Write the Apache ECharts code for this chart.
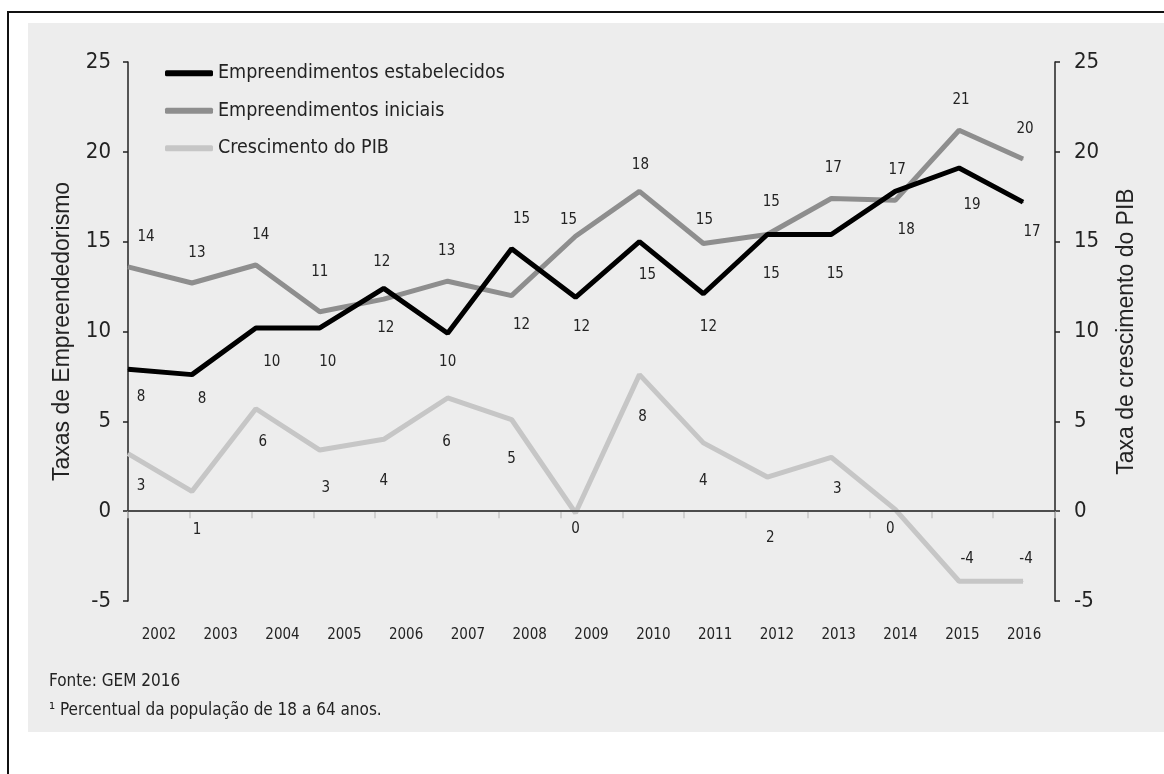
<!DOCTYPE html>
<html><head><meta charset="utf-8">
<script src="https://cdn.jsdelivr.net/npm/echarts@6/dist/echarts.min.js"></script>
<style>
html,body{margin:0;padding:0;width:1164px;height:774px;overflow:hidden;background:#fff;}
#frame{position:absolute;left:7px;top:11px;width:1200px;height:800px;border-left:2px solid #111;border-top:2px solid #111;}
#bg{position:absolute;left:28px;top:23px;width:1136px;height:709px;background:#ededed;}
#chart{position:absolute;left:0;top:0;width:1164px;height:774px;}
</style></head>
<body><div id="frame"></div><div id="bg"></div><div id="chart"></div>
<script>
// ---- data ----
const years = ['2002','2003','2004','2005','2006','2007','2008','2009','2010','2011','2012','2013','2014','2015','2016'];
const estabelecidos = [7.9, 7.6, 10.2, 10.2, 12.4, 9.9, 14.6, 11.9, 15.0, 12.1, 15.4, 15.4, 17.8, 19.1, 17.2];
const iniciais      = [13.6, 12.7, 13.7, 11.1, 11.8, 12.8, 12.0, 15.3, 17.8, 14.9, 15.4, 17.4, 17.3, 21.2, 19.6];
const pib           = [3.2, 1.1, 5.7, 3.4, 4.0, 6.3, 5.1, -0.1, 7.6, 3.8, 1.9, 3.0, 0.1, -3.9, -3.9];
const yTicksMin = -5, yTicksMax = 25, yTickStep = 5;
const seriesNames = ['Empreendimentos estabelecidos', 'Empreendimentos iniciais', 'Crescimento do PIB'];
const leftAxisName = 'Taxas de Empreendedorismo';
const rightAxisName = 'Taxa de crescimento do PIB';
const footnotes = ['Fonte: GEM 2016', '\u00B9 Percentual da população de 18 a 64 anos.'];

// ---- styling ----
const COND = '"DejaVu Sans Condensed","Liberation Sans Narrow","DejaVu Sans",sans-serif';
const SANS = '"Liberation Sans",Arial,sans-serif';
const TXT = '#232323';
// label placement (style only): index -> [position, distance, dx]
const labelStyle = {
  est: { def: ['bottom', 22, 4], over: {
    0: ['bottom', 20, 13], 1: ['bottom', 16, 10], 2: ['bottom', 26, 16], 3: ['bottom', 26, 8],
    4: ['top', 18, -2], 5: ['bottom', 21, 0], 6: ['top', 22, 10], 7: ['bottom', 22, 6],
    8: ['bottom', 25, 8], 9: ['bottom', 25, 5], 10: ['bottom', 32, 4], 11: ['bottom', 32, 4],
    12: ['bottom', 31, 11], 13: ['bottom', 29, 13], 14: ['bottom', 22, 9] } },
  ini: { def: ['top', 22, 2], over: {
    0: ['top', 22, 18], 1: ['top', 22, 5], 2: ['top', 22, 5], 3: ['top', 32, 0],
    4: ['bottom', 21, 2], 5: ['top', 22, -1], 6: ['bottom', 22, 10], 7: ['top', 8, -7],
    8: ['top', 18, 1], 9: ['top', 15, 1], 10: ['top', 24, 4] } },
  pib: { def: ['bottom', 30, 2], over: {
    0: ['bottom', 24, 13], 1: ['bottom', 31, 5], 2: ['bottom', 25, 7], 3: ['bottom', 30, 6],
    4: ['bottom', 34, 0], 5: ['bottom', 36, -1], 6: ['bottom', 32, 0], 7: ['bottom', 8, 0],
    8: ['bottom', 34, 3], 9: ['bottom', 30, 0], 10: ['bottom', 53, 3], 11: ['bottom', 24, 6],
    12: ['bottom', 12, -5], 13: ['top', 14, 8], 14: ['top', 14, 3] } }
};
function build(values, key) {
  const st = labelStyle[key];
  return values.map((v, i) => {
    const p = st.over[i] || st.def;
    return { value: [i, v], label: { position: p[0], distance: p[1], offset: [p[2], 0] } };
  });
}
const labelBase = {
  show: true, fontSize: 15, color: TXT, fontFamily: COND,
  formatter: p => String(Math.round(p.value[1]) === 0 ? 0 : Math.round(p.value[1]))
};

const chart = echarts.init(document.getElementById('chart'), null, { renderer: 'canvas' });
const yAxisCommon = {
  type: 'value', min: yTicksMin, max: yTicksMax, interval: yTickStep,
  axisLine: { show: true, lineStyle: { color: '#222', width: 1.5 } },
  axisTick: { show: true, length: 5, lineStyle: { color: '#222', width: 1.5 } },
  splitLine: { show: false },
  nameLocation: 'middle', nameRotate: 90,
  nameTextStyle: { fontSize: 23, color: TXT, fontFamily: SANS }
};
chart.setOption({
  animation: false,
  backgroundColor: 'transparent',
  grid: { left: 128, right: 109, top: 62, bottom: 173, containLabel: false },
  legend: {
    left: 160, top: 56, orient: 'vertical', itemWidth: 48, itemHeight: 6, itemGap: 13,
    icon: 'roundRect',
    textStyle: { fontSize: 19.5, color: TXT, fontFamily: COND, lineHeight: 24.5 },
    data: seriesNames
  },
  xAxis: [
    {
      type: 'category', data: years, position: 'bottom', offset: 7, boundaryGap: true,
      axisLine: { lineStyle: { color: '#c6c6c6', width: 1.5 } },
      axisTick: { show: true, length: 7, lineStyle: { color: '#c6c6c6', width: 1.5 } },
      axisLabel: { fontSize: 15, color: TXT, fontFamily: COND, margin: 20 }
    },
    { type: 'value', min: 0, max: 14.5, show: false }
  ],
  yAxis: [
    Object.assign({}, yAxisCommon, { position: 'left', name: leftAxisName, nameGap: 54,
      axisLabel: { fontSize: 22, color: TXT, fontFamily: COND, margin: 17 } }),
    Object.assign({}, yAxisCommon, { position: 'right', name: rightAxisName, nameGap: 60,
      axisLabel: { fontSize: 22, color: TXT, fontFamily: COND, margin: 19 } })
  ],
  series: [
    {
      name: seriesNames[2], type: 'line', xAxisIndex: 1, yAxisIndex: 1,
      symbol: 'circle', symbolSize: 1, showSymbol: true, z: 2,
      lineStyle: { color: '#c6c6c6', width: 5 }, itemStyle: { color: '#c6c6c6' },
      label: labelBase, data: build(pib, 'pib'),
      markLine: { silent: true, symbol: 'none', label: { show: false },
        lineStyle: { color: '#222', width: 1.5, type: 'solid' }, data: [{ yAxis: 0 }] }
    },
    {
      name: seriesNames[1], type: 'line', xAxisIndex: 1, yAxisIndex: 0,
      symbol: 'circle', symbolSize: 1, showSymbol: true, z: 3,
      lineStyle: { color: '#8e8e8e', width: 5 }, itemStyle: { color: '#8e8e8e' },
      label: labelBase, data: build(iniciais, 'ini')
    },
    {
      name: seriesNames[0], type: 'line', xAxisIndex: 1, yAxisIndex: 0,
      symbol: 'circle', symbolSize: 1, showSymbol: true, z: 4,
      lineStyle: { color: '#000', width: 5 }, itemStyle: { color: '#000' },
      label: labelBase, data: build(estabelecidos, 'est')
    }
  ],
  graphic: [
    { type: 'text', left: 49, top: 673, style: { text: footnotes[0], fontSize: 17, fill: TXT, fontFamily: COND } },
    { type: 'text', left: 49, top: 702, style: { text: footnotes[1], fontSize: 17, fill: TXT, fontFamily: COND } }
  ]
});
</script>
</body></html>
